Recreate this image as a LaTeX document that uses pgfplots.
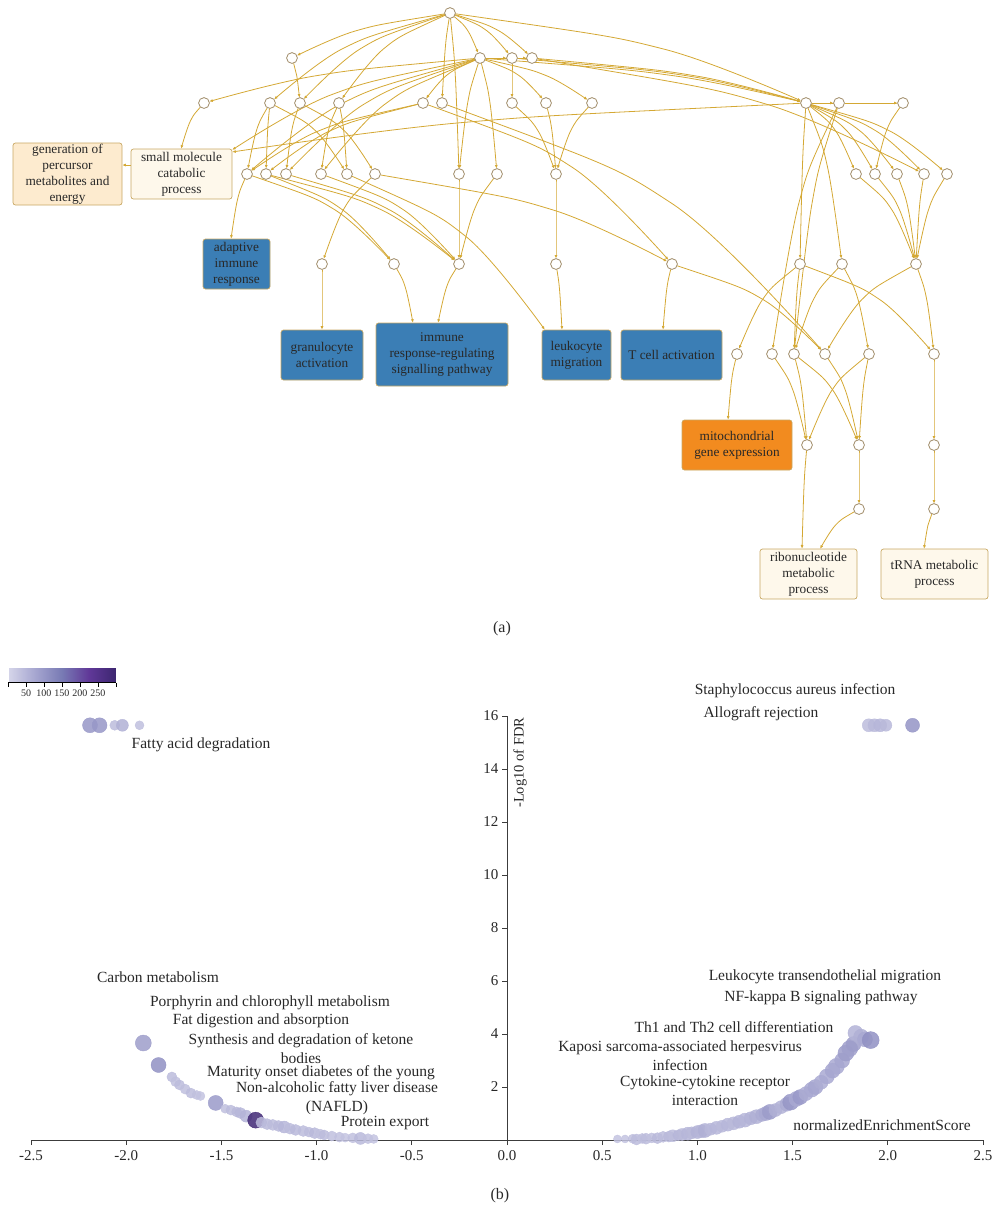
\documentclass[border=0pt]{standalone}
\usepackage{fontspec}
\setmainfont{Liberation Serif}
\usepackage{pgfplots}
\pgfplotsset{compat=1.18}
\usetikzlibrary{arrows.meta}

\definecolor{edgecol}{RGB}{212,168,52}
\definecolor{nodecol}{RGB}{160,140,105}
\definecolor{boxline}{RGB}{200,168,100}
\definecolor{blueterm}{RGB}{59,126,181}
\definecolor{orangeterm}{RGB}{242,139,31}
\definecolor{peach}{RGB}{253,235,207}
\definecolor{cream}{RGB}{254,248,235}
\definecolor{inkc}{RGB}{40,40,40}
\definecolor{axcol}{RGB}{60,60,60}

\pgfplotsset{
  ee/.style={draw=edgecol, line width=0.8pt, smooth, no markers,
    shorten <=5.5pt, shorten >=5.5pt, -{Latex[length=3.5pt,width=3pt]}},
  eb/.style={ee, shorten >=0.3pt},
  ebb/.style={ee, shorten <=0pt, shorten >=0.3pt},
  /pgf/number format/assume math mode=true,
}
\tikzset{
  term/.style={draw=boxline, line width=0.7pt, rounded corners=2.5pt, align=center,
    inner sep=0pt, text=inkc, font=\fontsize{13.3}{16}\selectfont},
  lab/.style={font=\fontsize{15.5}{19}\selectfont, text=inkc, align=center, inner sep=0pt},
}

% edge from (x1,y1) to (x2,y2), drawn as a gentle arc through one bend point
\makeatletter
\def\E#1#2{\def\E@st{ee}\E@aux#1;#2;}
\def\Eb#1#2{\def\E@st{eb}\E@aux#1;#2;}
\def\Ebb#1#2{\def\E@st{ebb}\E@aux#1;#2;}
\def\E@aux#1,#2;#3,#4;{%
  \pgfmathsetmacro\E@mx{#1+0.6*(#3-#1)}%
  \pgfmathsetmacro\E@my{#2+0.4*(#4-#2)}%
  \edef\E@tmp{\noexpand\addplot[\E@st] coordinates {(#1,#2) (\E@mx,\E@my) (#3,#4)};}%
  \E@tmp}
\makeatother

\pgfplotstableread{
x y
450 13
292 58
480 58
512 58
532 58
204 103
270 103
300 103
339 103
423 103
442 103
512 103
546 103
592 103
806 103
839 103
903 103
247 174
266 174
286 174
321 174
347 174
375 174
459 174
497 174
556 174
856 174
875 174
897 174
924 174
947 174
322 264
394 264
459 264
556 264
672 264
800 264
842 264
916 264
737 354
772 354
794 354
825 354
869 354
934 354
807 445
859 445
934 445
859 509
934 509
}\gonodes

\pgfplotstableread{
x y c s
-2.19 15.65 100 7.5
-2.14 15.65 100 7.5
-2.06 15.65 40 5
-2.02 15.65 60 6
-1.93 15.65 35 4.5
1.90 15.65 40 6.5
1.93 15.65 45 6.5
1.96 15.65 50 6.5
1.99 15.65 45 6
2.13 15.65 105 7
-1.91 3.66 90 8
-1.83 2.83 110 7.5
-1.76 2.38 40 5
-1.74 2.20 35 5
-1.72 2.08 40 5
-1.69 1.92 35 5
-1.66 1.77 40 5
-1.63 1.70 35 4.5
-1.61 1.66 30 4.5
-1.53 1.40 95 7.5
-1.48 1.18 35 4.5
-1.45 1.13 40 5
-1.42 1.06 45 5
-1.40 1.02 50 5.5
-1.37 0.90 55 6
-1.32 0.75 290 8
-1.29 0.66 40 5.5
-1.26 0.60 45 5.5
-1.23 0.57 40 5.5
-1.20 0.53 45 5.5
-1.17 0.49 50 6
-1.14 0.43 40 5.5
-1.11 0.38 45 5.5
-1.07 0.34 40 5.5
-1.04 0.30 40 5
-1.01 0.26 45 5.5
-0.98 0.22 35 5
-0.96 0.19 40 5
-0.92 0.15 35 5
-0.88 0.11 35 5
-0.85 0.09 30 4.5
-0.81 0.08 35 5
-0.77 0.06 45 6
-0.73 0.05 35 5
-0.70 0.04 30 4.5
0.58 0.04 30 4
0.62 0.04 30 4
0.66 0.05 35 4.5
0.68 0.02 40 5.5
0.71 0.06 35 5
0.73 0.05 40 5.5
0.76 0.08 35 5
0.79 0.07 45 5.5
0.82 0.12 40 5.5
0.85 0.13 45 5.5
0.87 0.16 40 6
0.90 0.18 50 5.5
0.92 0.21 45 6
0.95 0.24 50 6.5
0.97 0.27 45 6
1.00 0.30 55 6.5
1.02 0.33 50 6.5
1.04 0.36 60 7
1.07 0.41 45 6
1.10 0.46 50 6.5
1.13 0.52 45 6
1.16 0.58 50 6.5
1.19 0.63 45 6.5
1.22 0.69 55 6.5
1.25 0.75 50 7
1.28 0.82 55 6.5
1.31 0.88 60 7
1.34 0.95 65 6.5
1.36 1.00 70 7
1.38 1.06 90 7.5
1.41 1.13 60 6.5
1.44 1.24 55 6.5
1.47 1.35 65 7
1.49 1.43 100 8
1.52 1.55 70 7.5
1.54 1.62 95 7.5
1.57 1.75 65 7
1.60 1.90 70 7.5
1.62 2.00 75 7.5
1.65 2.18 65 7
1.68 2.40 70 7.5
1.71 2.62 75 7.5
1.73 2.78 70 8
1.76 3.00 75 7.5
1.78 3.28 90 8
1.80 3.45 85 8
1.82 3.62 90 7.5
1.83 4.04 55 7.5
1.86 3.90 60 7.5
1.88 3.80 70 7.5
1.91 3.77 110 8.5
}\gsea

\begin{document}
\begin{tikzpicture}
\useasboundingbox (0,0) rectangle (992pt,-1211pt);

% ---------------- (a) GO term network ----------------
\begin{axis}[at={(0pt,0pt)}, anchor=north west, scale only axis,
  width=992pt, height=615pt, xmin=0, xmax=992, ymin=0, ymax=615,
  y dir=reverse, hide axis, clip=false]

\E{450,13}{292,58}
\E{450,13}{480,58}
\E{450,13}{512,58}
\E{450,13}{532,58}
\E{450,13}{270,103}
\E{450,13}{300,103}
\E{450,13}{339,103}
\E{450,13}{442,103}
\E{450,13}{459,174}
\E{450,13}{806,103}
\E{292,58}{300,103}
\E{480,58}{204,103}
\E{480,58}{512,58}
\E{480,58}{546,103}
\E{480,58}{592,103}
\E{480,58}{806,103}
\E{480,58}{459,174}
\E{480,58}{497,174}
\E{480,58}{286,174}
\E{480,58}{321,174}
\E{480,58}{247,174}
\E{480,58}{423,103}
\E{512,58}{532,58}
\E{512,58}{512,103}
\E{512,58}{806,103}
\E{532,58}{806,103}
\E{532,58}{924,174}
\E{270,103}{247,174}
\E{270,103}{266,174}
\E{270,103}{347,174}
\E{300,103}{286,174}
\E{300,103}{375,174}
\E{339,103}{321,174}
\E{339,103}{347,174}
\E{423,103}{247,174}
\E{423,103}{266,174}
\E{423,103}{672,264}
\E{442,103}{825,354}
\E{512,103}{556,174}
\E{546,103}{556,174}
\E{592,103}{556,174}
\E{247,174}{394,264}
\E{266,174}{394,264}
\E{266,174}{459,264}
\E{286,174}{459,264}
\E{321,174}{459,264}
\E{375,174}{322,264}
\E{375,174}{672,264}
\E{459,174}{459,264}
\E{497,174}{459,264}
\E{556,174}{556,264}
\E{806,103}{839,103}
\E{839,103}{903,103}
\E{806,103}{856,174}
\E{806,103}{875,174}
\E{806,103}{897,174}
\E{806,103}{924,174}
\E{806,103}{947,174}
\E{903,103}{875,174}
\E{806,103}{800,264}
\E{806,103}{842,264}
\E{839,103}{772,354}
\E{839,103}{794,354}
\E{856,174}{916,264}
\E{875,174}{916,264}
\E{897,174}{916,264}
\E{924,174}{916,264}
\E{947,174}{916,264}
\E{672,264}{825,354}
\E{800,264}{737,354}
\E{800,264}{794,354}
\E{800,264}{934,354}
\E{842,264}{794,354}
\E{842,264}{869,354}
\E{916,264}{825,354}
\E{916,264}{934,354}
\E{772,354}{807,445}
\E{794,354}{807,445}
\E{794,354}{859,445}
\E{825,354}{859,445}
\E{869,354}{807,445}
\E{869,354}{859,445}
\E{934,354}{934,445}
\E{859,445}{859,509}
\E{934,445}{934,509}
% edges ending on term boxes
\Eb{204,103}{181,149}
\Eb{806,103}{232,152}
\Eb{480,58}{232,150}
\Eb{247,174}{231,239}
\Eb{322,264}{322,330}
\Eb{394,264}{413,323}
\Eb{459,264}{438,323}
\Eb{347,174}{545,330}
\Eb{556,264}{562,330}
\Eb{672,264}{663,330}
\Eb{737,354}{728,420}
\Eb{807,445}{802,549}
\Eb{859,509}{820,549}
\Eb{934,509}{924,549}
\Ebb{131,165}{122,165}

\addplot[only marks, mark=*, mark size=5.4pt,
  mark options={fill=white, draw=nodecol, line width=0.8pt}] table {\gonodes};

\node[term, fill=peach, minimum width=109pt, minimum height=62pt] at (axis cs:67.5,174)
  {generation of\\percursor\\metabolites and\\energy};
\node[term, fill=cream, minimum width=101pt, minimum height=50pt] at (axis cs:181.5,174)
  {small molecule\\catabolic\\process};
\node[term, fill=blueterm, minimum width=67pt, minimum height=50pt] at (axis cs:236.5,264)
  {adaptive\\immune\\response};
\node[term, fill=blueterm, minimum width=82pt, minimum height=50pt] at (axis cs:322,355)
  {granulocyte\\activation};
\node[term, fill=blueterm, minimum width=132pt, minimum height=63pt] at (axis cs:442,354.5)
  {immune\\response-regulating\\signalling pathway};
\node[term, fill=blueterm, minimum width=69pt, minimum height=50pt] at (axis cs:576.5,355)
  {leukocyte\\migration};
\node[term, fill=blueterm, minimum width=101pt, minimum height=50pt] at (axis cs:671.5,355)
  {T cell activation};
\node[term, fill=orangeterm, minimum width=110pt, minimum height=50pt] at (axis cs:737,445)
  {mitochondrial\\gene expression};
\node[term, fill=cream, minimum width=97pt, minimum height=50pt] at (axis cs:808.5,574)
  {ribonucleotide\\metabolic\\process};
\node[term, fill=cream, minimum width=107pt, minimum height=50pt] at (axis cs:934.5,574)
  {tRNA metabolic\\process};

\node[font=\fontsize{16}{18}\selectfont, text=inkc] at (axis cs:502,629) {(a)};
\end{axis}

% ---------------- (b) enrichment scatter ----------------
\begin{axis}[at={(31pt,-1140pt)}, anchor=south west, scale only axis,
  width=952pt, height=424pt,
  xmin=-2.5, xmax=2.5, ymin=0, ymax=16,
  axis lines=middle, axis line style={-, draw=axcol, line width=0.9pt},
  hide obscured x ticks=false,
  tick align=outside, major tick length=5pt,
  tick style={draw=axcol, line width=0.8pt},
  xtick={-2.5,-2,-1.5,-1,-0.5,0,0.5,1,1.5,2,2.5},
  ytick={2,4,...,16},
  xticklabel style={font=\fontsize{15}{17}\selectfont, text=inkc, yshift=-2pt,
    /pgf/number format/.cd, fixed, fixed zerofill, precision=1},
  yticklabel style={font=\fontsize{15}{17}\selectfont, text=inkc},
  colormap={purp}{rgb255(0)=(214,214,234) rgb255(1)=(166,166,208) rgb255(2)=(120,122,180)
    rgb255(3)=(96,56,152) rgb255(4)=(60,38,112)},
  point meta min=0, point meta max=300,
  colorbar horizontal,
  colorbar style={
    at={(parent axis.north west)}, anchor=south west, xshift=-23pt, yshift=42pt,
    scale only axis, width=108pt, height=22pt,
    xtick={0,50,...,300}, xticklabels={,50,100,150,200,250,},
    tick align=outside, major tick length=4pt,
    axis x line*=bottom, axis y line=none,
    tick style={draw=black, line width=0.7pt},
    axis line style={draw=black, line width=0.7pt},
    xticklabel style={font=\fontsize{10}{11}\selectfont, text=inkc},
  },
  clip=false]

\addplot[scatter, only marks, mark=*, point meta=explicit,
  scatter/use mapped color={draw=mapped color, fill=mapped color},
  mark options={fill opacity=0.85, draw opacity=0.9},
  visualization depends on={\thisrow{s}\as\psz},
  scatter/@pre marker code/.append style={/tikz/mark size=\psz pt}]
  table[x=x, y=y, meta=c] {\gsea};

\node[lab] at (axis cs:1.513,16.94) {Staphylococcus aureus infection};
\node[lab] at (axis cs:1.334,16.08) {Allograft rejection};
\node[lab] at (axis cs:-1.607,14.91) {Fatty acid degradation};
\node[lab] at (axis cs:-1.833,6.15) {Carbon metabolism};
\node[lab] at (axis cs:-1.245,5.17) {Porphyrin and chlorophyll metabolism};
\node[lab] at (axis cs:-1.292,4.49) {Fat digestion and absorption};
\node[lab] at (axis cs:-1.082,3.45) {Synthesis and degradation of ketone\\bodies};
\node[lab] at (axis cs:-0.977,2.53) {Maturity onset diabetes of the young};
\node[lab] at (axis cs:-0.893,1.57) {Non-alcoholic fatty liver disease\\(NAFLD)};
\node[lab] at (axis cs:-0.641,0.64) {Protein export};
\node[lab] at (axis cs:1.670,6.15) {Leukocyte transendothelial migration};
\node[lab] at (axis cs:1.649,5.36) {NF-kappa B signaling pathway};
\node[lab] at (axis cs:1.192,4.26) {Th1 and Th2 cell differentiation};
\node[lab] at (axis cs:0.909,3.19) {Kaposi sarcoma-associated herpesvirus\\infection};
\node[lab] at (axis cs:1.040,1.87) {Cytokine-cytokine receptor\\interaction};
\node[lab] at (axis cs:1.970,0.57) {normalizedEnrichmentScore};
\node[rotate=90, anchor=east, font=\fontsize{14.5}{16}\selectfont, text=inkc]
  at ([xshift=13pt,yshift=2pt]axis cs:0,16) {-Log10 of FDR};
\node[font=\fontsize{16}{18}\selectfont, text=inkc] at (axis cs:-0.037,-2.11) {(b)};
\end{axis}
\end{tikzpicture}
\end{document}
